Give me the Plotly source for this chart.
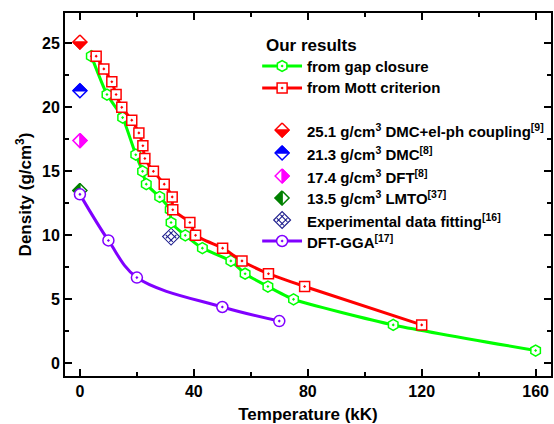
import plotly.graph_objects as go

# Transition density vs temperature
gap_T = [4, 9.5, 15, 19.6, 22, 23.3, 28, 31.7, 32, 37, 43, 53, 58, 66, 75, 110, 160]
gap_rho = [24, 21, 19.2, 16.3, 15, 14, 13, 12, 11, 10, 9, 8, 7, 6, 5, 3, 1]

mott_T = [5.7, 8.4, 11.2, 12.7, 14.7, 18.2, 20.7, 22.1, 22.8, 25.8, 29.6, 32.4, 32.6,
          38.6, 40.6, 50.1, 56.9, 66.2, 78.9, 120]
mott_rho = [24, 23, 22, 21, 20, 19, 18, 17, 16, 15, 14, 13, 12, 11, 10, 9, 8, 7, 6, 3]

gga_T = [0, 10, 20, 50, 70]
gga_rho = [13.2, 9.6, 6.7, 4.4, 3.3]

lit_T = [0, 0, 0, 0]
lit_rho = [25.1, 21.3, 17.4, 13.5]
lit_labels = ["25.1 g/cm<sup>3</sup> DMC+el-ph coupling<sup>[9]</sup>",
              "21.3 g/cm<sup>3</sup> DMC<sup>[8]</sup>",
              "17.4 g/cm<sup>3</sup> DFT<sup>[8]</sup>",
              "13.5 g/cm<sup>3</sup> LMTO<sup>[37]</sup>"]
lit_colors = ["#ff0000", "#0000ff", "#ff00ff", "#008000"]
lit_halves = ["bottom", "top", "right", "left"]

exp_T = [32]
exp_rho = [9.9]

x_ticks = [0, 40, 80, 120, 160]
y_ticks = [0, 5, 10, 15, 20, 25]

# Layout geometry
W, H = 554, 424
M_L, M_R, M_T, M_B = 65, 1, 13, 48
PW, PH = W - M_L - M_R, H - M_T - M_B
X_RANGE = [-5.24, 165.4]
Y_RANGE = [-0.99, 27.37]

FONT = "Liberation Sans, Arial, sans-serif"
GREEN, RED, PURPLE, NAVY = "#00ff00", "#ff0000", "#8000ff", "#1c1c8c"

fig = go.Figure()


def half_diamond(cx, cy, color, half, xr, yr, xa, ya, size_px=7.0):
    """Diamond outline with one half filled, sized in pixels."""
    hx = size_px * (xr[1] - xr[0]) / PW
    hy = size_px * (yr[1] - yr[0]) / PH
    top, right = (cx, cy + hy), (cx + hx, cy)
    bot, left = (cx, cy - hy), (cx - hx, cy)
    full = [top, right, bot, left, top]
    part = {"bottom": [left, right, bot, left],
            "top": [left, top, right, left],
            "right": [top, right, bot, top],
            "left": [top, left, bot, top]}[half]
    fig.add_trace(go.Scatter(x=[p[0] for p in full], y=[p[1] for p in full],
                             mode="lines", fill="toself", fillcolor="white",
                             line=dict(color=color, width=1.5),
                             xaxis=xa, yaxis=ya, showlegend=False, hoverinfo="skip"))
    fig.add_trace(go.Scatter(x=[p[0] for p in part], y=[p[1] for p in part],
                             mode="lines", fill="toself", fillcolor=color,
                             line=dict(color=color, width=1.5),
                             xaxis=xa, yaxis=ya, showlegend=False, hoverinfo="skip"))


def hatched(x, y, xa, ya):
    """Cross-hatched diamond symbol."""
    fig.add_trace(go.Scatter(x=x, y=y, mode="markers",
                             marker=dict(symbol="diamond-open", size=13, color=NAVY,
                                         line=dict(width=1.1, color=NAVY)),
                             xaxis=xa, yaxis=ya, showlegend=False, hoverinfo="skip"))
    fig.add_trace(go.Scatter(x=x, y=y, mode="markers",
                             marker=dict(symbol="hash-open", size=10, angle=45, color=NAVY,
                                         line=dict(width=1.1, color=NAVY)),
                             xaxis=xa, yaxis=ya, showlegend=False, hoverinfo="skip"))


# Literature values at T = 0
for T, rho, c, h in zip(lit_T, lit_rho, lit_colors, lit_halves):
    half_diamond(T, rho, c, h, X_RANGE, Y_RANGE, "x", "y")

# Experimental fit point
hatched(exp_T, exp_rho, "x", "y")

# Our results
fig.add_trace(go.Scatter(x=gap_T, y=gap_rho, mode="lines+markers",
                         line=dict(color=GREEN, width=3, shape="spline", smoothing=0.5),
                         marker=dict(symbol="hexagon-dot", size=11, color="white",
                                     line=dict(color=GREEN, width=1.5)),
                         showlegend=False))
fig.add_trace(go.Scatter(x=mott_T, y=mott_rho, mode="lines+markers",
                         line=dict(color=RED, width=3, shape="spline", smoothing=0.5),
                         marker=dict(symbol="square-dot", size=10, color="white",
                                     line=dict(color=RED, width=1.5)),
                         showlegend=False))
fig.add_trace(go.Scatter(x=gga_T, y=gga_rho, mode="lines+markers",
                         line=dict(color=PURPLE, width=3, shape="spline", smoothing=1.0),
                         marker=dict(symbol="circle-dot", size=11, color="white",
                                     line=dict(color=PURPLE, width=1.5)),
                         showlegend=False))

# ---- hand-built legend on a hidden overlay axis (0..1 in plot area) ----
def fx(px):
    return (px - M_L) / PW


def fy(py):
    return (M_T + PH - py) / PH


LX0, LX1, LXM, TX = 263, 303, 283, 306
rows_line = [(66, GREEN, "hexagon-dot", 11, "from gap closure"),
             (88, RED, "square-dot", 10, "from Mott criterion")]
row_gga = (241, PURPLE, "circle-dot", 11, "DFT-GGA<sup>[17]</sup>")

for py, col, sym, sz, label in rows_line + [row_gga]:
    fig.add_trace(go.Scatter(x=[fx(LX0), fx(LX1)], y=[fy(py), fy(py)], mode="lines",
                             line=dict(color=col, width=3), xaxis="x2", yaxis="y2",
                             showlegend=False, hoverinfo="skip"))
    fig.add_trace(go.Scatter(x=[fx(LXM)], y=[fy(py)], mode="markers",
                             marker=dict(symbol=sym, size=sz, color="white",
                                         line=dict(color=col, width=1.5)),
                             xaxis="x2", yaxis="y2", showlegend=False, hoverinfo="skip"))

lit_rows = [130, 153, 176, 198]
for py, c, h in zip(lit_rows, lit_colors, lit_halves):
    half_diamond(fx(LXM), fy(py), c, h, [0, 1], [0, 1], "x2", "y2")

exp_row = 220
hatched([fx(LXM)], [fy(exp_row)], "x2", "y2")

legend_texts = [(45, "Our results", 17, 265)]
legend_texts += [(py, label, 15, TX) for py, _, _, _, label in rows_line]
legend_texts += [(py, label, 15, TX) for py, label in zip(lit_rows, lit_labels)]
legend_texts += [(exp_row, "Experimental data fitting<sup>[16]</sup>", 15, TX)]
legend_texts += [(row_gga[0], row_gga[4], 15, TX)]

for py, text, size, px in legend_texts:
    fig.add_annotation(x=fx(px), y=fy(py), xref="paper", yref="paper",
                       text=text, showarrow=False, xanchor="left", yanchor="middle",
                       font=dict(family=FONT, size=size, color="black", weight="bold"))

axis_common = dict(showline=True, linewidth=2, linecolor="black", mirror="allticks",
                   ticks="inside", ticklen=7, tickwidth=1.5, tickcolor="black",
                   showgrid=False, zeroline=False,
                   tickfont=dict(family=FONT, size=16, color="black", weight="bold"))

fig.update_layout(
    width=W, height=H,
    margin=dict(l=M_L, r=M_R, t=M_T, b=M_B),
    paper_bgcolor="white", plot_bgcolor="white",
    showlegend=False,
    xaxis=dict(range=X_RANGE, tickvals=x_ticks,
               minor=dict(dtick=20, tick0=0, ticks="inside", ticklen=4, tickwidth=1.5,
                          tickcolor="black"),
               title=dict(text="Temperature (kK)", standoff=9,
                          font=dict(family=FONT, size=17, color="black", weight="bold")),
               **axis_common),
    yaxis=dict(range=Y_RANGE, tickvals=y_ticks,
               minor=dict(dtick=2.5, tick0=0, ticks="inside", ticklen=4, tickwidth=1.5,
                          tickcolor="black"),
               title=dict(text="Density (g/cm<sup>3</sup>)", standoff=6,
                          font=dict(family=FONT, size=17, color="black", weight="bold")),
               **axis_common),
    xaxis2=dict(range=[0, 1], overlaying="x", visible=False, fixedrange=True),
    yaxis2=dict(range=[0, 1], overlaying="y", visible=False, fixedrange=True),
)

fig.write_html("out.html")
